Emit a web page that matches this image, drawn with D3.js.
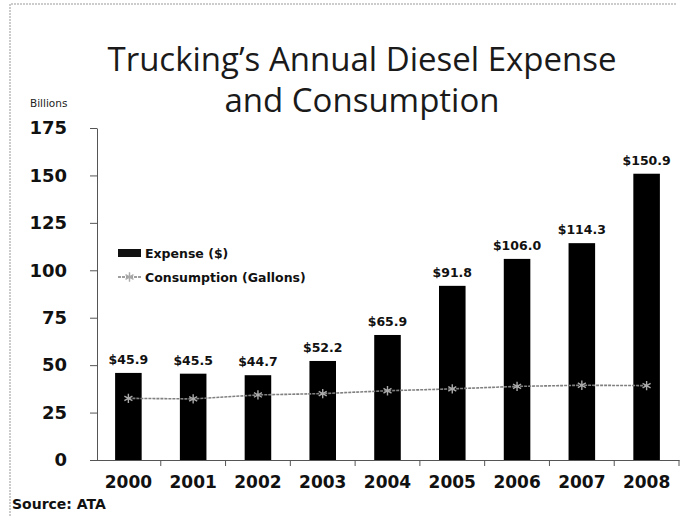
<!DOCTYPE html>
<html><head><meta charset="utf-8">
<script src="https://cdn.jsdelivr.net/npm/d3@7"></script>
<style>body{margin:0;background:#fff}svg{display:block}</style>
</head><body>
<svg id="chart" width="683" height="516"></svg>
<script>
const years = ["2000","2001","2002","2003","2004","2005","2006","2007","2008"];
const expense = [45.9, 45.5, 44.7, 52.2, 65.9, 91.8, 106.0, 114.3, 150.9];
const consumption = [32.5, 32.2, 34.3, 35.0, 36.5, 37.5, 38.8, 39.4, 39.2];
const yTicks = [0, 25, 50, 75, 100, 125, 150, 175];
const titleLines = ["Trucking\u2019s Annual Diesel Expense", "and Consumption"];

const svg = d3.select("#chart");
const bold = "'DejaVu Sans', Verdana, sans-serif";

// frame
svg.append("path").attr("d","M10,516V4H677").attr("fill","none").attr("stroke","#999").attr("stroke-width",1).attr("stroke-dasharray","2,1");

const x = d3.scaleBand().domain(years).range([96, 679]).paddingInner(0.59).paddingOuter(0.295);
const y = d3.scaleLinear().domain([0, 175]).range([460, 128]);

// title
svg.append("g").selectAll("text").data(titleLines).join("text")
  .attr("x", 362).attr("y", (d,i)=>71 + i*41)
  .attr("text-anchor","middle").attr("font-family","'Open Sans', sans-serif")
  .attr("font-size", 33).attr("fill","#1a1a1a").text(d=>d);

svg.append("text").attr("x",30).attr("y",107).attr("font-family","'DejaVu Sans', sans-serif")
  .attr("font-size",10.5).attr("fill","#222").text("Billions");

// y axis
const yAxis = d3.axisLeft(y).tickValues(yTicks).tickSize(7).tickPadding(23).tickSizeOuter(0);
const gy = svg.append("g").attr("transform","translate(97,0)").call(yAxis);
gy.select(".domain").attr("stroke","#555");
gy.selectAll(".tick line").attr("stroke","#555");
gy.selectAll(".tick text").attr("font-family",bold).attr("font-weight","bold").attr("font-size",18).attr("fill","#111");

// x axis
const xAxis = d3.axisBottom(x).tickSize(0).tickPadding(16).tickSizeOuter(0);
const gx = svg.append("g").attr("transform","translate(0,460)").call(xAxis);
gx.select(".domain").attr("stroke","#555");
gx.selectAll(".tick text").attr("font-family",bold).attr("font-weight","bold").attr("font-size",17).attr("fill","#111");
// category separator ticks
const step = x.step();
svg.append("g").selectAll("line").data(years).join("line")
  .attr("x1", d=>x(d)+x.bandwidth()/2+step/2).attr("x2", d=>x(d)+x.bandwidth()/2+step/2)
  .attr("y1",460).attr("y2",466).attr("stroke","#555");

// bars
svg.append("g").selectAll("rect").data(years).join("rect")
  .attr("x", d=>x(d)).attr("width", x.bandwidth())
  .attr("y", (d,i)=>y(expense[i])).attr("height", (d,i)=>y(0)-y(expense[i]))
  .attr("fill","#000");

// value labels
svg.append("g").selectAll("text").data(years).join("text")
  .attr("x", d=>x(d)+x.bandwidth()/2).attr("y",(d,i)=>y(expense[i])-9)
  .attr("text-anchor","middle").attr("font-family",bold).attr("font-weight","bold")
  .attr("font-size",12.5).attr("fill","#111").text((d,i)=>"$"+expense[i].toFixed(1));

// consumption line
const line = d3.line().x((d,i)=>x(years[i])+x.bandwidth()/2).y(d=>y(d));
svg.append("path").datum(consumption).attr("d", line).attr("fill","none")
  .attr("stroke","#808080").attr("stroke-width",1.6).attr("stroke-dasharray","3,1");
const star = d3.symbol().type(d3.symbolAsterisk).size(60);
svg.append("g").selectAll("path").data(consumption).join("path")
  .attr("transform",(d,i)=>`translate(${x(years[i])+x.bandwidth()/2},${y(d)})`)
  .attr("d", star).attr("fill","none").attr("stroke","#aaa").attr("stroke-width",1.4);

// legend
const lg = svg.append("g");
lg.append("rect").attr("x",118).attr("y",249).attr("width",23).attr("height",8).attr("fill","#111");
lg.append("text").attr("x",145).attr("y",258).attr("font-family",bold).attr("font-weight","bold").attr("font-size",12.5).attr("fill","#111").text("Expense ($)");
lg.append("line").attr("x1",118).attr("x2",141).attr("y1",277).attr("y2",277).attr("stroke","#808080").attr("stroke-width",1.6).attr("stroke-dasharray","3,1");
lg.append("path").attr("transform","translate(129.5,277)").attr("d",star).attr("fill","none").attr("stroke","#aaa").attr("stroke-width",1.4);
lg.append("text").attr("x",145).attr("y",282).attr("font-family",bold).attr("font-weight","bold").attr("font-size",12.5).attr("fill","#111").text("Consumption (Gallons)");

// source
svg.append("text").attr("x",12).attr("y",509).attr("font-family",bold).attr("font-weight","bold")
  .attr("font-size",14).attr("fill","#111").text("Source: ATA");
</script>
</body></html>
